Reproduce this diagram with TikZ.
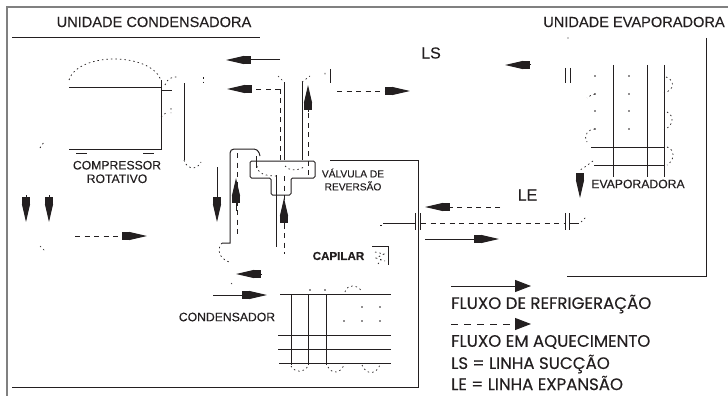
\documentclass[tikz,border=0pt]{standalone}
\usepackage{fontspec}
\setmainfont[FakeBold=0.25]{Liberation Sans}
\newfontfamily\legendfont[FakeBold=0.3]{Poppins}
\usetikzlibrary{arrows.meta}
\definecolor{inkdark}{HTML}{231F20}
\definecolor{framegray}{HTML}{808080}
\tikzset{
    framerule/.style={draw=framegray, line width=1.4pt},
    boxrule/.style={draw=inkdark, line width=1pt},
    pipe/.style={draw=inkdark, line width=1pt},
    pipedash/.style={draw=inkdark, line width=1pt, dash pattern=on 5pt off 4.5pt},
    pipedot/.style={draw=inkdark, line width=0.7pt, dash pattern=on 1.5pt off 3pt},
    flowtip/.style={-{Rectangle[length=7pt, width=8pt]Triangle[length=18pt, width=8pt]}},
    flow/.style={pipe, flowtip},
    flowdash/.style={pipedash, flowtip},
    legendtip/.style={-{Triangle[length=16pt, width=12pt]}},
    unitlabel/.style={font=\fontsize{14.6}{16}\selectfont, text=inkdark, inner sep=0pt},
    partlabel/.style={font=\fontsize{12.2}{13.5}\selectfont, text=inkdark, inner sep=0pt, align=center},
    valvetext/.style={font=\fontsize{10.2}{13}\selectfont, text=inkdark, inner sep=0pt, align=center},
    linelabel/.style={font=\fontsize{16}{18}\selectfont, text=inkdark, inner sep=0pt},
    legendlabel/.style={font=\legendfont\fontsize{16.6}{18}\selectfont, text=inkdark, inner sep=0pt, anchor=west},
}
\begin{document}
\begin{tikzpicture}[x=1pt, y=-1pt]
    \useasboundingbox (0,0) rectangle (728,396);
    % frames
    \draw[framerule] (7,396) -- (7,7) -- (728,7);
    \draw[boxrule] (12,38) -- (260,38);
    \draw[boxrule] (12,387) -- (418,387) -- (418,160) -- (330,160);
    \draw[boxrule] (706,38) -- (706,276) -- (567,276);
    \node[unitlabel] (condtitle) at (154,22) {UNIDADE CONDENSADORA};
    \node[unitlabel] (evaptitle) at (634,22) {UNIDADE EVAPORADORA};
    % compressor
    \draw[boxrule] (69,87) -- (161,87) (161,80) -- (161,149) -- (69,149);
    \draw[boxrule] (76,153) -- (87,153) (143,153) -- (154,153);
    \draw[pipedot] (69,80) .. controls (78,52) and (150,52) .. (161,80);
    \draw[pipedot] (165,85) .. controls (167,79) and (172,76) .. (179,77);
    \draw[pipe] (161,90) -- (172,90);
    \draw[pipedot] (161,117) -- (167,112) (171,108) -- (171,113);
    \draw[pipedot] (40,148) -- (44,142);
    \draw[pipedot] (40,246) -- (46,252);
    \node[partlabel] (compressor) at (117,172) {COMPRESSOR\\ROTATIVO};
    % tubes on the left of the valve
    \draw[pipe] (184,83) -- (184,160);
    \draw[pipedot] (184,160) .. controls (186,168) and (196,172) .. (201,162);
    \draw[pipedot] (203,77) -- (203,85);
    \draw[pipe] (222,243) -- (230,243) -- (230,155) [rounded corners=4pt] -- (230,149) -- (258,149) -- (260,156);
    \draw[pipe] (256,156) -- (256,168);
    \draw[pipedash] (237,153) -- (237,237);
    \draw[pipedot] (222,243) .. controls (217,248) and (218,258) .. (229,262);
    % tubes at the top of the valve
    \draw[pipe] (284,160) -- (284,82);
    \draw[pipedot] (278,76) -- (284,82);
    \draw[pipe] (302,160) -- (302,82);
    \draw[pipedot] (302,82) -- (310,76) (325,73) -- (325,77);
    \draw[pipe] (330,69) -- (330,83);
    \draw[pipedash] (280,160) -- (280,89);
    \draw[pipedash] (308,175) -- (308,89);
    % valve
    \draw[boxrule, rounded corners=1.5pt] (271,178) -- (250,178) -- (250,161) -- (315,161) -- (315,178) -- (291,178) -- (291,195) -- (271,195) -- cycle;
    \draw[pipedot] (257,166) .. controls (258,174) and (265,176) .. (278,176);
    \draw[pipedot] (285,166) .. controls (289,171) and (297,171) .. (304,167);
    \draw[pipe] (276,175) -- (276,247);
    \draw[pipedash] (284,176) -- (284,254);
    \node[valvetext] (valvelabel) at (353,179.5) {VÁLVULA DE\\REVERSÃO};
    % flow arrows at the valve
    \draw[flow] (280,60) -- (226,60);
    \draw[flowdash] (280,89) -- (227,89);
    \draw[flowdash] (337,91) -- (410,91);
    \draw[flow] (217,167) -- (217,222);
    \draw[flow] (236,211) -- (236,178);
    \draw[flow] (284,229) -- (284,198);
    \draw[flow] (308,112) -- (308,85);
    \draw[flow] (531,65) -- (505,65);
    % left of the compressor
    \draw[flow] (26,195) -- (26,222);
    \draw[flow] (49,195) -- (49,222);
    \draw[flowdash] (75,236) -- (147,236);
    \node[linelabel] (lslabel) at (431,53) {LS};
    % capillary
    \node[font=\bfseries\fontsize{11.6}{13}\selectfont, text=inkdark, inner sep=0pt] (capilar) at (338.5,256) {CAPILAR};
    \draw[boxrule] (372,246) -- (388,246) -- (388,265);
    \draw[pipedot] (375,252) -- (384,254) -- (376,258) -- (385,261) (378,264) -- (381,260);
    % condenser
    \draw[flow] (262,274) -- (236,274);
    \draw[flow] (213,295) -- (267,295);
    \draw[pipedot] (231,283) -- (233,285);
    \node[partlabel] (condlabel) at (227,317) {CONDENSADOR};
    \foreach \yy/\xa in {294/280, 335/278, 349/278, 363/279}
        \draw[boxrule] (\xa,\yy) -- (391,\yy);
    \foreach \xx in {291,308,326}
        \draw[boxrule] (\xx,294) -- (\xx,365);
    \foreach \xx/\yy in {310/290, 325/290, 362/307, 380/307, 344/321, 362/321, 380/321}
        \fill[inkdark] (\xx,\yy) circle (0.9pt);
    \draw[pipedot] (345,292) .. controls (347,284) and (358,284) .. (362,292);
    \draw[pipedot] (291,366) .. controls (295,373) and (304,373) .. (308,366);
    \draw[pipedot] (328,367) .. controls (332,374) and (340,374) .. (344,365);
    \draw[pipedot] (362,365) .. controls (366,375) and (376,375) .. (380,365);
    % expansion line
    \draw[pipedot] (380,225) -- (382,225);
    \draw[pipe] (383,223) -- (415,223);
    \draw[pipe] (415,213) -- (415,230) (420,213) -- (420,230);
    \draw[pipedash] (421,223) -- (565,223);
    \draw[pipe] (565,213) -- (565,230) (569,213) -- (569,230);
    \draw[pipe] (569,223) -- (579,223);
    \draw[pipedot] (581,222) -- (586,217);
    \draw[flowdash] (500,207) -- (425,207);
    \draw[flow] (425,239) -- (499,239);
    \node[linelabel] (lelabel) at (527.5,195) {LE};
    % evaporator
    \draw[pipe] (565,68) -- (565,83) (570,68) -- (570,83);
    \fill[inkdark] (568,38) circle (0.7pt);
    \foreach \xx in {613,647,664}
        \draw[pipe] (\xx,65) -- (\xx,177);
    \draw[pipe] (591,147) -- (664,147);
    \draw[pipe] (594,165) -- (665,165);
    \foreach \xx in {595,629}
        \foreach \yy in {76,94,111,129}
            \fill[inkdark] (\xx,\yy) circle (0.9pt);
    \draw[pipedot] (666,77) .. controls (675,80) and (675,90) .. (664,93);
    \draw[pipedot] (667,112) .. controls (675,116) and (673,126) .. (664,130);
    \draw[pipedot] (667,147) .. controls (676,150) and (674,161) .. (667,165);
    \draw[pipedot] (595,94) .. controls (592,94) and (590,96) .. (587,98);
    \draw[pipedot] (595,129) .. controls (588,129) and (583,136) .. (587,142);
    \draw[pipedot] (593,161) .. controls (590,163) and (587,166) .. (580,170);
    \draw[flow] (580,180) -- (580,198);
    \node[partlabel] (evaplabel) at (638,184) {EVAPORADORA};
    % legend
    \draw[pipe, legendtip] (451,286) -- (531,286);
    \draw[pipedash, dash pattern=on 7pt off 6pt, legendtip] (451,324) -- (531,324);
    \node[legendlabel] (legrefrig) at (451,304) {FLUXO DE REFRIGERAÇÃO};
    \node[legendlabel] (legaquec) at (451,342) {FLUXO EM AQUECIMENTO};
    \node[legendlabel] (legls) at (451,364) {LS = LINHA SUCÇÃO};
    \node[legendlabel] (legle) at (451,383) {LE = LINHA EXPANSÃO};
\end{tikzpicture}
\end{document}
